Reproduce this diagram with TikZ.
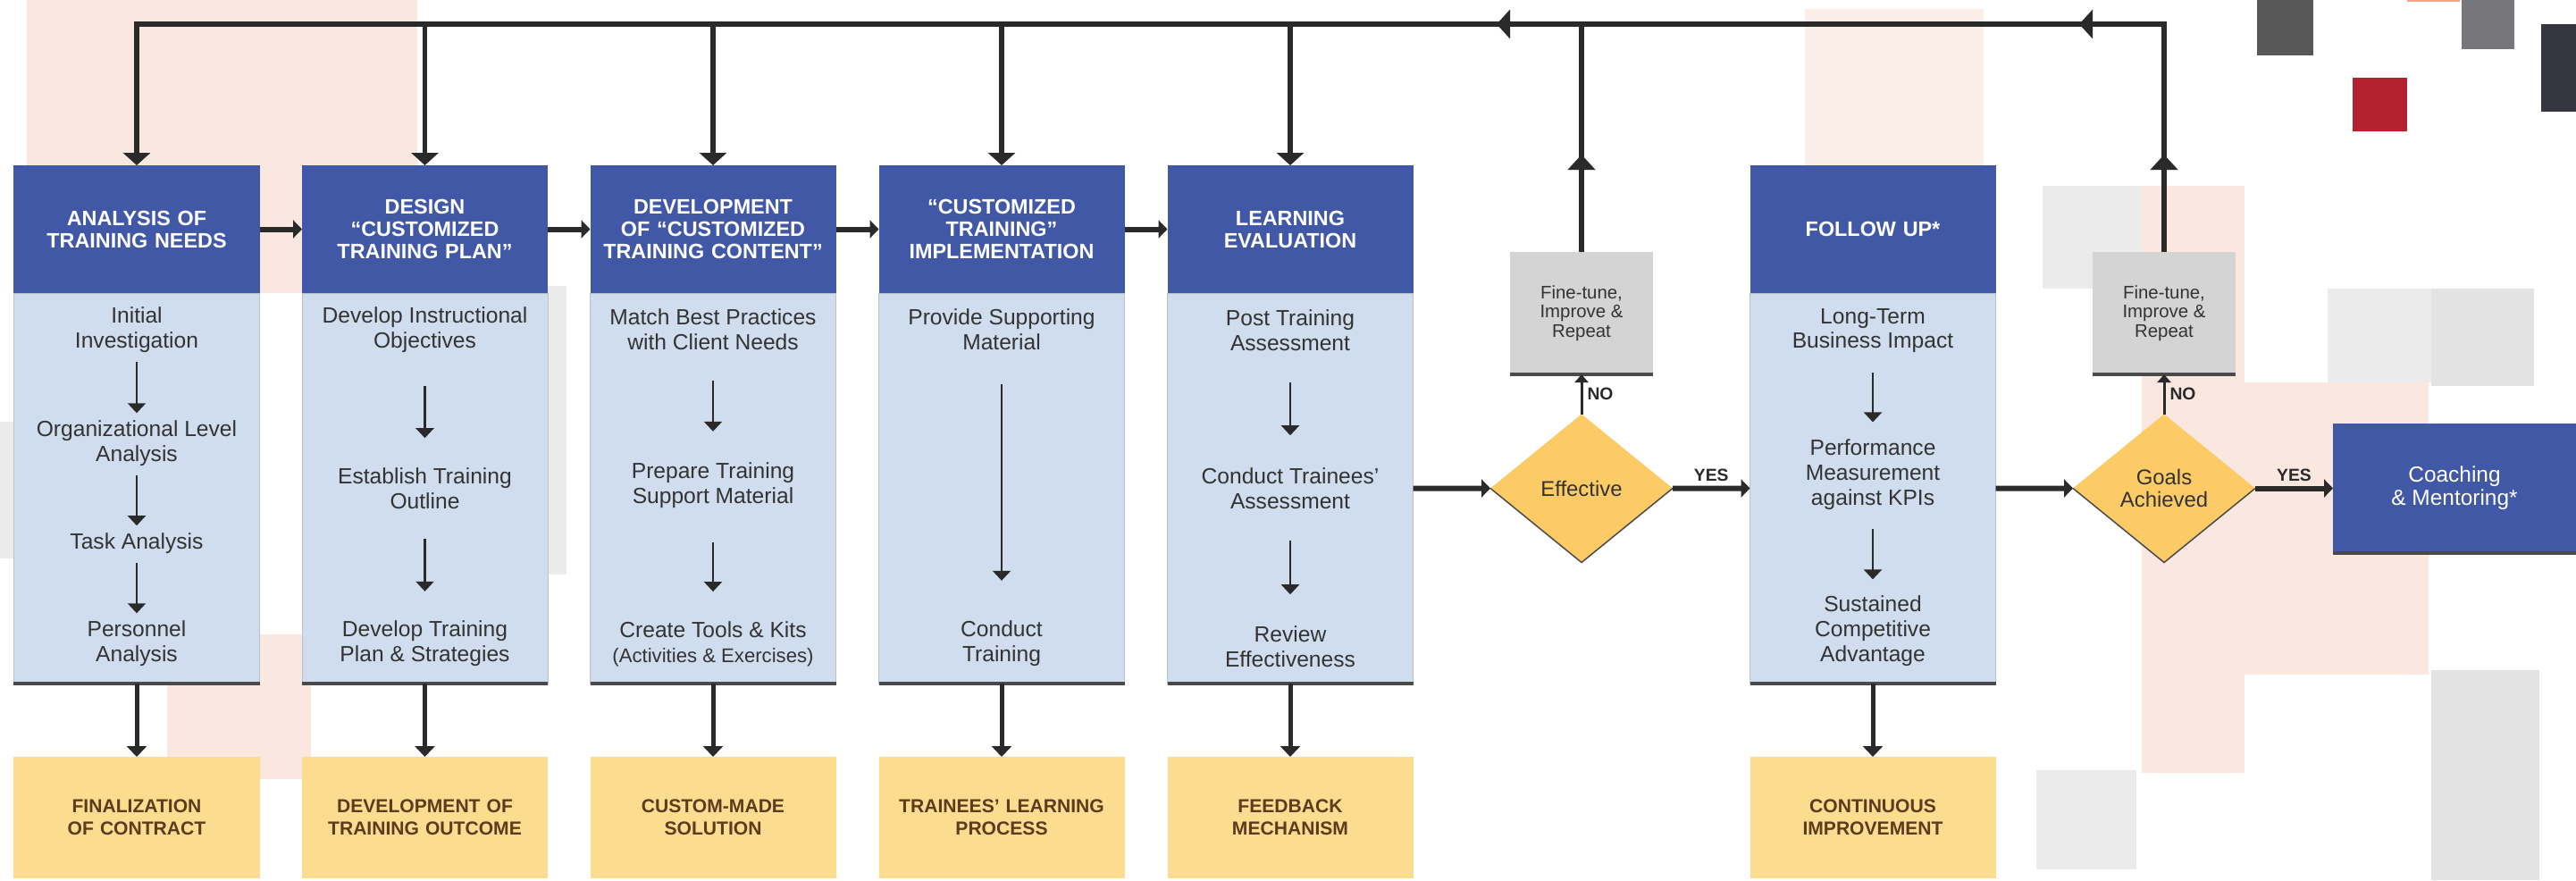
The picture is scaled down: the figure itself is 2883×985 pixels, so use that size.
\documentclass[tikz,border=0pt]{standalone}
\usepackage{fontspec}
\setmainfont{Liberation Sans}
\usetikzlibrary{positioning,shapes.geometric,arrows.meta,decorations.markings}

\definecolor{headblue}{HTML}{4158A6}
\definecolor{bodyblue}{HTML}{D0DDEE}
\definecolor{bodyedge}{HTML}{B9C3CF}
\definecolor{outyellow}{HTML}{FCDD90}
\definecolor{outbrown}{HTML}{5C3B1E}
\definecolor{diayellow}{HTML}{FDCB66}
\definecolor{fixgrey}{HTML}{D4D4D4}
\definecolor{textgrey}{HTML}{333333}
\definecolor{arrowc}{HTML}{2A2A2A}
\definecolor{footgrey}{HTML}{4A4A4A}
\definecolor{pinkbg}{HTML}{F9E7E0}
\definecolor{pinkbgb}{HTML}{FBEEE9}
\definecolor{greybg}{HTML}{EBEBEB}
\definecolor{greybgb}{HTML}{E3E3E3}
\definecolor{sqdark}{HTML}{575757}
\definecolor{sqgrey}{HTML}{77767B}
\definecolor{sqred}{HTML}{B3222E}
\definecolor{sqnavy}{HTML}{35353F}
\definecolor{sqsalmon}{HTML}{F0A48C}

\newcommand{\headfont}{\fontsize{13.3}{14.2}\selectfont\bfseries}
\newcommand{\itemfont}{\fontsize{14}{15.8}\selectfont}
\newcommand{\smallitem}{\fontsize{12.6}{15.8}\selectfont}
\newcommand{\outfont}{\fontsize{12}{14.2}\selectfont\bfseries}
\newcommand{\fixfont}{\fontsize{11.6}{12.2}\selectfont}
\newcommand{\diafont}{\fontsize{13.6}{14.4}\selectfont}
\newcommand{\coachfont}{\fontsize{13.9}{14.8}\selectfont}
\newcommand{\tagfont}{\fontsize{11}{12}\selectfont\bfseries}

\tikzset{
  head/.style={fill=headblue,text=white,font=\headfont,minimum width=55mm,minimum height=28.6mm,text width=53mm,align=center,inner sep=0pt,outer sep=0pt},
  body/.style={fill=bodyblue,draw=bodyedge,line width=0.2mm,minimum width=55mm,minimum height=87.4mm,inner sep=0pt,outer sep=0pt},
  outcome/.style={fill=outyellow,text=outbrown,font=\outfont,minimum width=55mm,minimum height=27.2mm,text width=53mm,align=center,inner sep=0pt,outer sep=0pt},
  item/.style={text=textgrey,font=\itemfont,align=center,inner sep=0pt},
  fixbox/.style={fill=fixgrey,text=textgrey,font=\fixfont,minimum width=32mm,minimum height=27.4mm,align=center,inner sep=0pt,outer sep=0pt},
  decision/.style={diamond,aspect=1.23,fill=diayellow,text=textgrey,font=\diafont,minimum width=40.8mm,minimum height=33.2mm,align=center,inner sep=0pt,outer sep=0pt},
  coach/.style={fill=headblue,text=white,font=\coachfont,minimum width=54.4mm,minimum height=29mm,align=center,inner sep=0pt,outer sep=0pt},
  tag/.style={font=\tagfont,text=arrowc,inner sep=1mm},
  foot/.style={draw=footgrey,line width=0.7mm},
  diaedge/.style={draw=footgrey,line width=0.3mm},
  flow/.style={draw=arrowc,line width=0.45mm,shorten <=7mm,shorten >=7mm,-{Triangle[width=4mm,length=2.2mm]}},
  main/.style={draw=arrowc,line width=1.1mm},
  drop/.style={main,-{Triangle[width=6mm,length=2.8mm]}},
  down/.style={draw=arrowc,line width=1mm,-{Triangle[width=4.4mm,length=2.4mm]}},
  link/.style={draw=arrowc,line width=1.2mm,-{Triangle[width=4mm,length=2mm]}},
  nolink/.style={draw=arrowc,line width=0.6mm,-{Triangle[width=3mm,length=1.8mm]}}
}

\begin{document}
\begin{tikzpicture}[x=0.2mm,y=-0.2mm]
	\useasboundingbox (0,0) rectangle (2883,985);

	%background squares
	\fill[pinkbg] (30,0) rectangle (467,328);
	\fill[greybg] (400,320) rectangle (634,643);
	\fill[greybg] (0,472) rectangle (100,625);
	\fill[pinkbg] (187,710) rectangle (348,872);
	\fill[pinkbgb] (2020,10) rectangle (2220,190);
	\fill[greybg] (2286,208) rectangle (2397,323);
	\fill[pinkbg] (2397,208) rectangle (2512,428);
	\fill[pinkbg] (2397,428) rectangle (2718,755);
	\fill[pinkbg] (2397,755) rectangle (2512,865);
	\fill[greybg] (2605,323) rectangle (2721,428);
	\fill[greybgb] (2721,323) rectangle (2836,432);
	\fill[greybg] (2279,862) rectangle (2391,973);
	\fill[greybgb] (2721,750) rectangle (2842,985);
	\fill[sqdark] (2526,0) rectangle (2589,62); %corner squares
	\fill[sqgrey] (2755,0) rectangle (2814,55);
	\fill[sqred] (2633,87) rectangle (2694,147);
	\fill[sqnavy] (2844,27) rectangle (2883,125);
	\fill[sqsalmon] (2694,0) rectangle (2753,1.5);

	%headers
	\node[head] (h1) at (153,256.5) {ANALYSIS OF\\TRAINING NEEDS};
	\node[head] (h2) at (475.5,256.5) {DESIGN\\“CUSTOMIZED\\TRAINING PLAN”};
	\node[head] (h3) at (798,256.5) {DEVELOPMENT\\OF “CUSTOMIZED\\TRAINING CONTENT”};
	\node[head] (h4) at (1121,256.5) {“CUSTOMIZED\\TRAINING”\\IMPLEMENTATION};
	\node[head] (h5) at (1444,256.5) {LEARNING\\EVALUATION};
	\node[head] (h6) at (2096,256.5) {FOLLOW UP*};

	%bodies
	\node[body, below=0pt of h1] (b1) {};
	\node[body, below=0pt of h2] (b2) {};
	\node[body, below=0pt of h3] (b3) {};
	\node[body, below=0pt of h4] (b4) {};
	\node[body, below=0pt of h5] (b5) {};
	\node[body, below=0pt of h6] (b6) {};
	\draw[foot] (b1.south west) -- (b1.south east);
	\draw[foot] (b2.south west) -- (b2.south east);
	\draw[foot] (b3.south west) -- (b3.south east);
	\draw[foot] (b4.south west) -- (b4.south east);
	\draw[foot] (b5.south west) -- (b5.south east);
	\draw[foot] (b6.south west) -- (b6.south east);

	%outcomes
	\node[outcome, below=16.4mm of b1] (o1) {FINALIZATION\\OF CONTRACT};
	\node[outcome, below=16.4mm of b2] (o2) {DEVELOPMENT OF\\TRAINING OUTCOME};
	\node[outcome, below=16.4mm of b3] (o3) {CUSTOM-MADE\\SOLUTION};
	\node[outcome, below=16.4mm of b4] (o4) {TRAINEES' LEARNING\\PROCESS};
	\node[outcome, below=16.4mm of b5] (o5) {FEEDBACK\\MECHANISM};
	\node[outcome, below=16.4mm of b6] (o6) {CONTINUOUS\\IMPROVEMENT};

	%steps
	\node[item] (i11) at (153,369) {Initial\\Investigation};
	\node[item] (i12) at (153,496) {Organizational Level\\Analysis};
	\node[item] (i13) at (153,608) {Task Analysis};
	\node[item] (i14) at (153,720) {Personnel\\Analysis};
	\node[item] (i21) at (475.5,369) {Develop Instructional\\Objectives};
	\node[item] (i22) at (475.5,547) {Establish Training\\Outline};
	\node[item] (i23) at (475.5,720) {Develop Training\\Plan \& Strategies};
	\node[item] (i31) at (798,369) {Match Best Practices\\with Client Needs};
	\node[item] (i32) at (798,543) {Prepare Training\\Support Material};
	\node[item] (i33) at (798,721) {Create Tools \& Kits\\{\smallitem (Activities \& Exercises)}};
	\node[item] (i41) at (1121,369) {Provide Supporting\\Material};
	\node[item] (i42) at (1121,720) {Conduct\\Training};
	\node[item] (i51) at (1444,370) {Post Training\\Assessment};
	\node[item] (i52) at (1444,547) {Conduct Trainees'\\Assessment};
	\node[item] (i53) at (1444,724) {Review\\Effectiveness};
	\node[item] (i61) at (2096,370) {Long-Term\\Business Impact};
	\node[item] (i62) at (2096,531) {Performance\\Measurement\\against KPIs};
	\node[item] (i63) at (2096,706) {Sustained\\Competitive\\Advantage};

	%decisions and loops
	\node[decision] (eff) at (1770,546.5) {Effective};
	\node[decision] (goal) at (2422,546.5) {Goals\\Achieved};
	\draw[diaedge] (eff.west) -- (eff.south) -- (eff.east);
	\draw[diaedge] (goal.west) -- (goal.south) -- (goal.east);
	\node[fixbox] (fix1) at (1770,350.5) {Fine-tune,\\Improve \&\\Repeat};
	\node[fixbox] (fix2) at (2422,350.5) {Fine-tune,\\Improve \&\\Repeat};
	\draw[foot] (fix1.south west) -- (fix1.south east);
	\draw[foot] (fix2.south west) -- (fix2.south east);
	\node[coach] (coach) at (2747,546.5) {Coaching\\\& Mentoring*};
	\draw[foot] (coach.south west) -- (coach.south east);

	%steps arrows
	\draw[flow, shorten <=2mm, shorten >=1.6mm] (i11) -- (i12);
	\draw[flow, shorten <=2mm, shorten >=1.6mm] (i12) -- (i13);
	\draw[flow, shorten <=2mm, shorten >=1.6mm] (i13) -- (i14);
	\draw[flow, shorten <=7.5mm, shorten >=6.7mm] (i21) -- (i22);
	\draw[flow, shorten <=6.5mm, shorten >=6.5mm] (i22) -- (i23);
	\draw[flow, shorten <=6.7mm, shorten >=6.9mm] (i31) -- (i32);
	\draw[flow, shorten <=7.7mm, shorten >=6.7mm] (i32) -- (i33);
	\draw[flow, shorten <=7.5mm, shorten >=8.9mm] (i41) -- (i42);
	\draw[flow, shorten <=6.9mm, shorten >=7.3mm] (i51) -- (i52);
	\draw[flow, shorten <=6.9mm, shorten >=7.1mm] (i52) -- (i53);
	\draw[flow, shorten <=4.3mm, shorten >=3.8mm] (i61) -- (i62);
	\draw[flow, shorten <=4.2mm, shorten >=3.6mm] (i62) -- (i63);

	%header arrows
	\draw[link] (h1) -- (h2);
	\draw[link] (h2) -- (h3);
	\draw[link] (h3) -- (h4);
	\draw[link] (h4) -- (h5);

	%outcome arrows
	\draw[down] (b1) -- (o1);
	\draw[down] (b2) -- (o2);
	\draw[down] (b3) -- (o3);
	\draw[down] (b4) -- (o4);
	\draw[down] (b5) -- (o5);
	\draw[down] (b6) -- (o6);

	%decision arrows
	\draw[link] (b5) -- (eff);
	\draw[link] (eff) -- node[tag, above] (yes1) {YES} (b6);
	\draw[link] (b6) -- (goal);
	\draw[link] (goal) -- node[tag, above] (yes2) {YES} (coach);
	\draw[nolink] (eff) -- node[tag, right] (no1) {NO} (fix1);
	\draw[nolink] (goal) -- node[tag, right] (no2) {NO} (fix2);

	%feedback loop
	\coordinate (topL) at (153,27);
	\draw[drop, postaction={decorate}, decoration={markings,
	  mark=at position 21.8mm with {\arrow{Triangle[width=6mm,length=3.4mm]}},
	  mark=at position 70mm with {\arrow{Triangle[width=6.4mm,length=3mm]}},
	  mark=at position 200.4mm with {\arrow{Triangle[width=6.4mm,length=3mm]}}}]
	  (fix2) |- (topL) -- (h1); %outer loop
	\draw[main, postaction={decorate}, decoration={markings,
	  mark=at position 21.8mm with {\arrow{Triangle[width=6mm,length=3.4mm]}}}]
	  (fix1) -- (fix1 |- topL); %inner loop
	\draw[drop] (h2 |- topL) -- (h2);
	\draw[drop] (h3 |- topL) -- (h3);
	\draw[drop] (h4 |- topL) -- (h4);
	\draw[drop] (h5 |- topL) -- (h5);
\end{tikzpicture}
\end{document}
